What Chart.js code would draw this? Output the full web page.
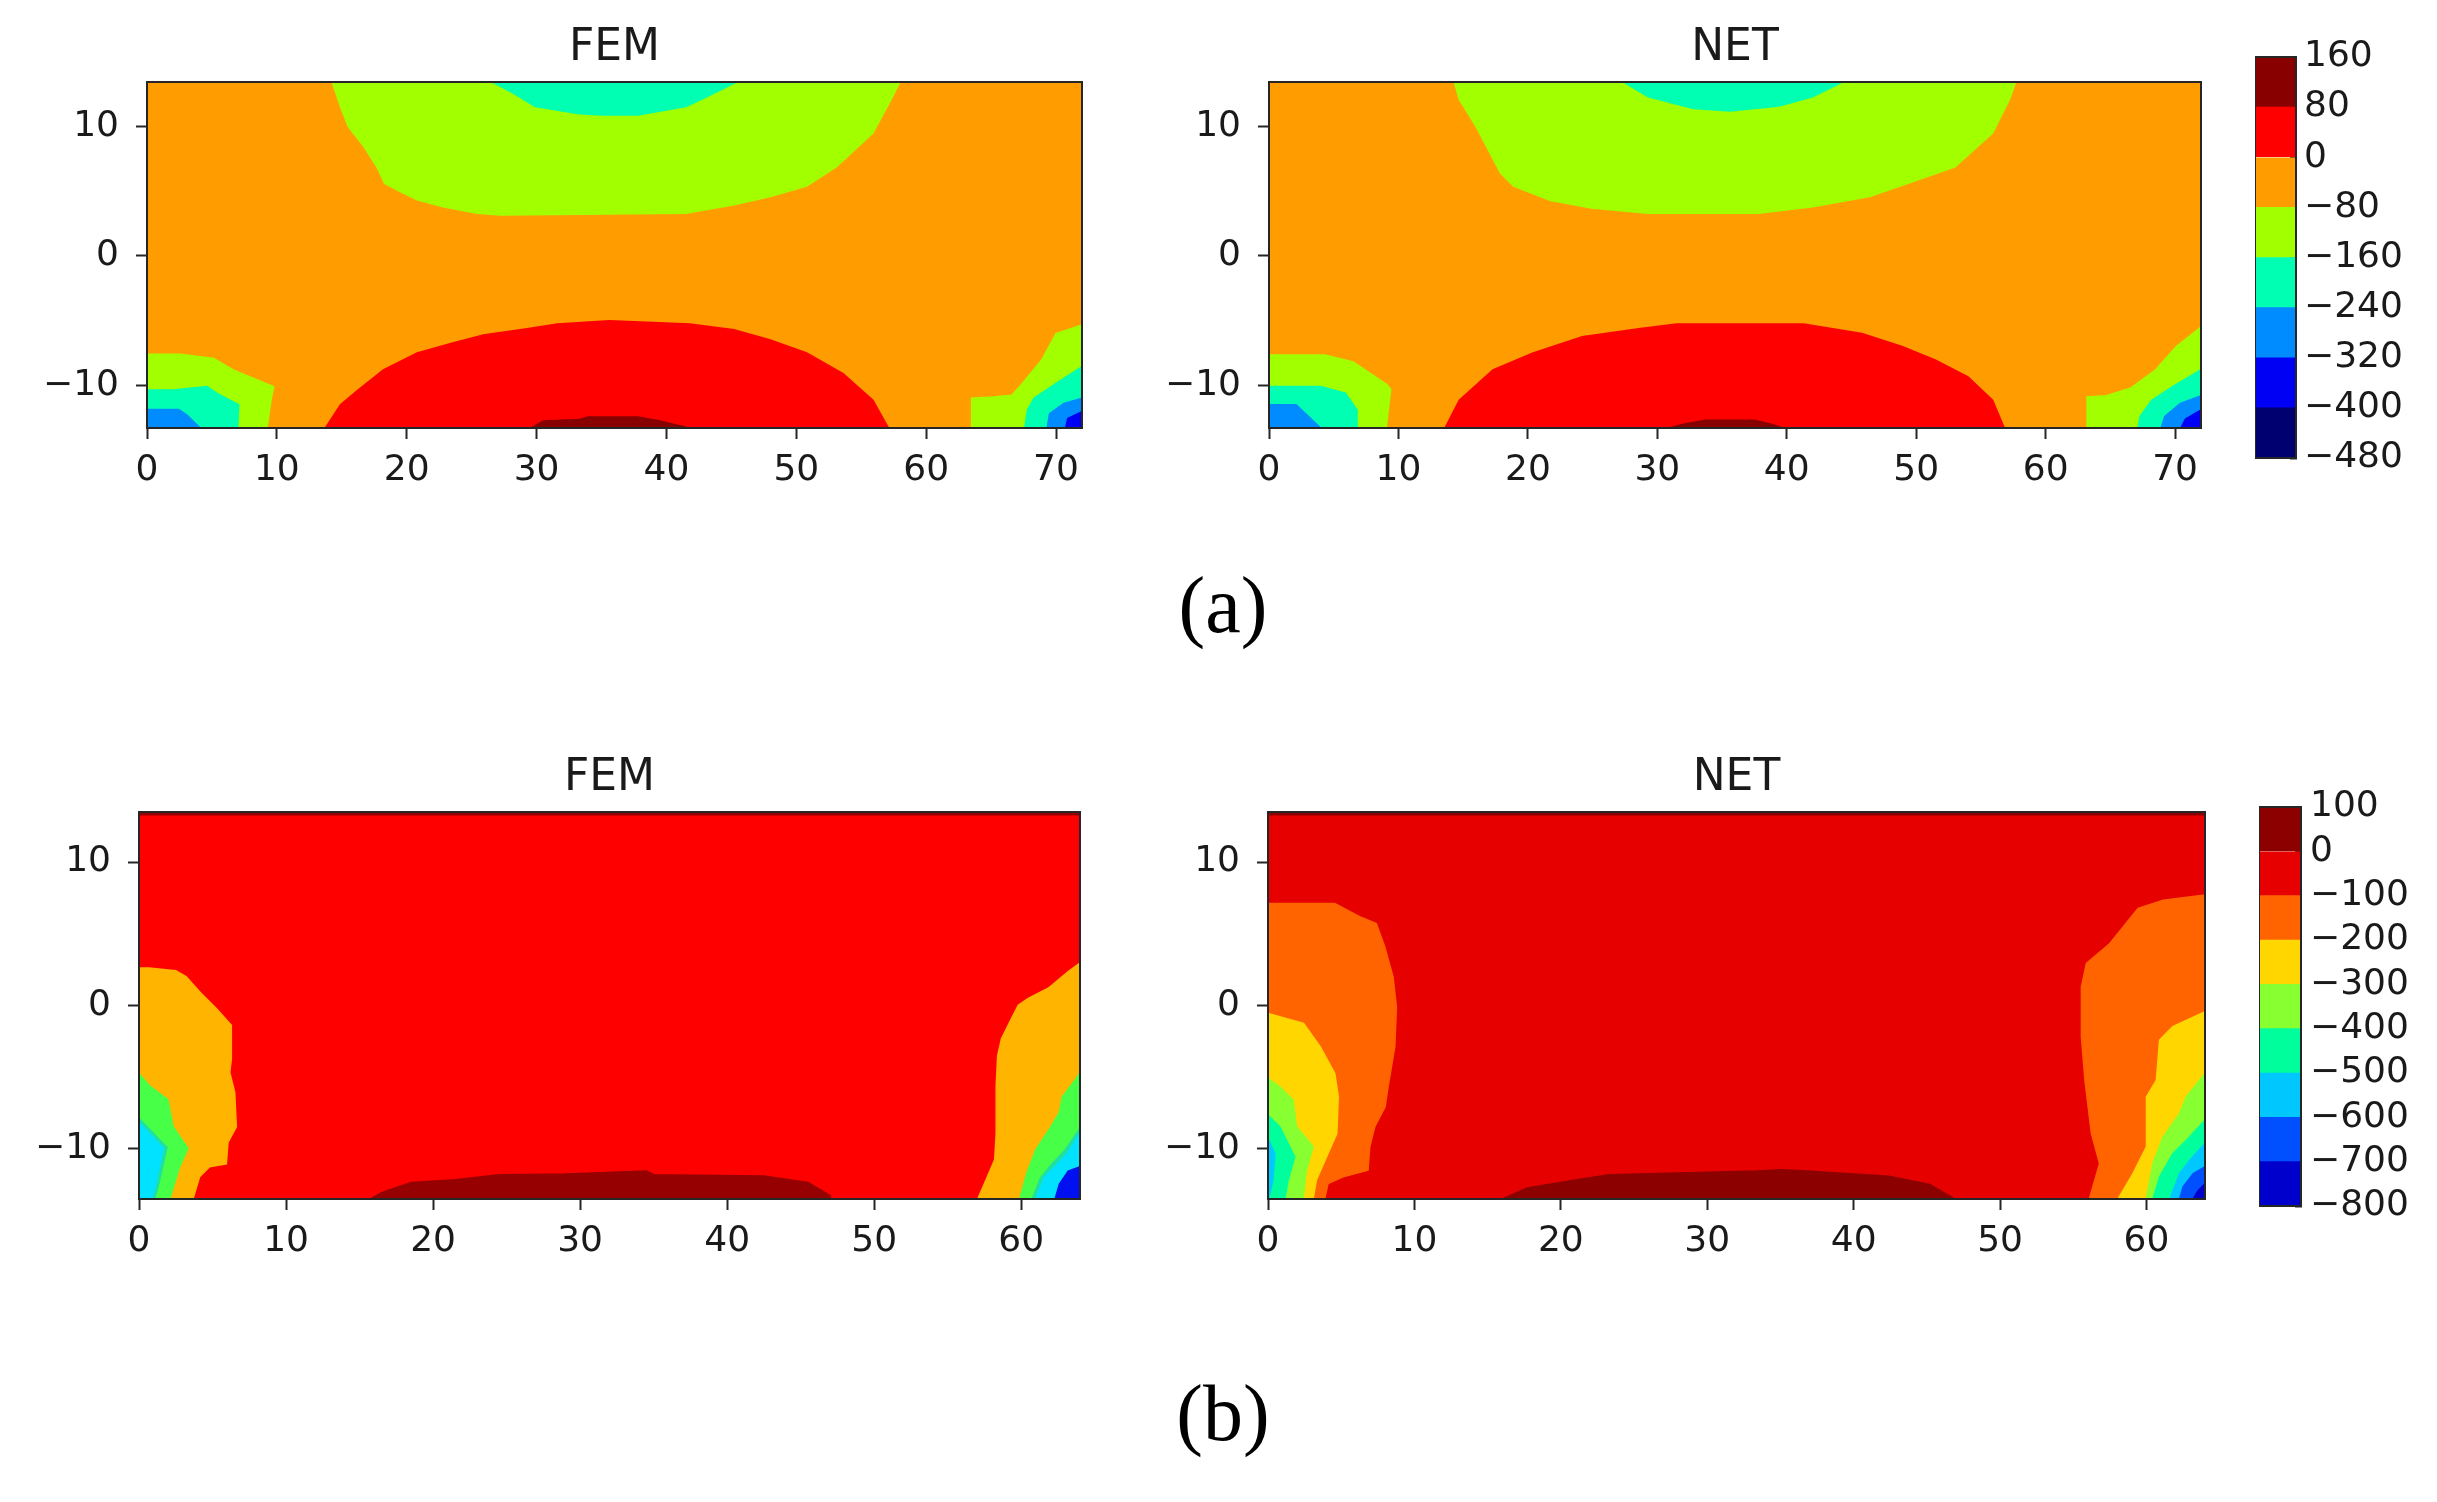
<!DOCTYPE html>
<html>
<head>
<meta charset="utf-8">
<script src="https://cdn.jsdelivr.net/npm/chart.js@4.4.1/dist/chart.umd.min.js"></script>
<style>
html, body { margin: 0; background: #fff; }
body { width: 2437px; height: 1502px; position: relative; overflow: hidden; font-family: "DejaVu Sans", sans-serif; }
canvas { position: absolute; }
.title { position: absolute; text-align: center; font-size: 44px; line-height: 44px; color: #1a1a1a; }
.cap { position: absolute; width: 200px; text-align: center; font-family: "Liberation Serif", serif; font-size: 80px; line-height: 80px; color: #000; }
</style>
</head>
<body>
<canvas id="femA"></canvas>
<canvas id="netA"></canvas>
<canvas id="barA"></canvas>
<canvas id="femB"></canvas>
<canvas id="netB"></canvas>
<canvas id="barB"></canvas>
<div class="title" style="left:147px;width:935px;top:23px">FEM</div>
<div class="title" style="left:1269px;width:932px;top:23px">NET</div>
<div class="title" style="left:139px;width:941px;top:753px">FEM</div>
<div class="title" style="left:1268px;width:937px;top:753px">NET</div>
<div class="cap" style="left:1123px;top:565px">(a)</div>
<div class="cap" style="left:1123px;top:1373px">(b)</div>
<script>
// ---- axes ----
const xTicksA = [0, 10, 20, 30, 40, 50, 60, 70];
const xTicksB = [0, 10, 20, 30, 40, 50, 60];
const yTicks = [-10, 0, 10];
const xRangeA = [0, 72];
const yRangeA = [-13.3, 13.45];
const xRangeB = [0, 64];
const yRangeB = [-13.55, 13.5];

// ---- colorbar levels ----
const levelsA = [-480, -400, -320, -240, -160, -80, 0, 80, 160];
const levelsB = [-800, -700, -600, -500, -400, -300, -200, -100, 0, 100];

// ---- (a) FEM contour boundaries [x, y] ----
const femA_green = [[14.0,14],[14.24,13.5],[14.9,11.56],[15.5,10.0],[16.7,8.46],[17.7,6.9],[18.3,5.6],[19.5,4.98],[20.8,4.34],[22.8,3.8],[25.4,3.3],[27.2,3.17],[41.5,3.3],[45.2,3.95],[48.0,4.6],[50.8,5.4],[53.1,6.9],[55.9,9.5],[57.3,12.1],[58.0,13.5],[58.1,14]];
const femA_aqua = [[26.4,14],[26.5,13.5],[28.2,12.6],[29.9,11.56],[33.3,11.0],[35.0,10.9],[37.8,10.9],[41.5,11.56],[42.9,12.2],[45.5,13.5],[45.6,14]];
const femA_red = [[13.6,-14],[13.73,-13.3],[14.9,-11.5],[16.2,-10.4],[18.2,-8.8],[20.8,-7.5],[23.4,-6.76],[25.9,-6.1],[29.4,-5.6],[31.6,-5.26],[35.6,-5.0],[41.8,-5.26],[45.2,-5.7],[48.0,-6.5],[50.8,-7.5],[53.6,-9.1],[55.9,-11.15],[57.1,-13.3],[57.2,-14]];
const femA_darkred = [[29.5,-14],[29.6,-13.3],[30.5,-12.75],[33.3,-12.65],[33.9,-12.44],[37.8,-12.44],[39.5,-12.75],[41.8,-13.3],[41.9,-14]];
const femA_lgreen = [[-1,-7.59],[2.57,-7.59],[5.13,-7.92],[6.67,-8.83],[9.75,-10.1],[9.55,-11.15],[9.24,-13.3],[9.2,-14],[-1,-14]];
const femA_laqua = [[-1,-10.37],[2.05,-10.37],[4.62,-10.1],[5.39,-10.63],[7.06,-11.5],[6.98,-13.3],[6.95,-14],[-1,-14]];
const femA_lblue = [[-1,-11.87],[2.44,-11.87],[3.08,-12.3],[4.1,-13.3],[4.2,-14],[-1,-14]];
const femA_rgreen = [[73,-5.34],[72,-5.34],[70.0,-6.0],[68.9,-8.05],[67.2,-10.1],[66.6,-10.76],[65.2,-10.9],[63.5,-11.0],[63.5,-14],[73,-14]];
const femA_raqua = [[73,-8.57],[72,-8.57],[70.0,-9.86],[68.3,-11.0],[67.8,-11.9],[67.5,-14],[73,-14]];
const femA_rlblue = [[73,-11.0],[72,-11.0],[70.6,-11.4],[69.5,-12.2],[69.2,-14],[73,-14]];
const femA_rblue = [[73,-12.05],[72,-12.05],[70.9,-12.57],[70.6,-14],[73,-14]];

// ---- (a) NET ----
const netA_green = [[14.2,14],[14.3,13.5],[14.7,12.1],[16.0,10.0],[17.9,6.4],[18.9,5.4],[21.7,4.3],[24.9,3.7],[29.3,3.3],[37.8,3.3],[42.0,3.8],[46.4,4.6],[50.2,5.9],[53.0,6.9],[55.9,9.5],[57.2,12.1],[57.7,13.5],[57.8,14]];
const netA_aqua = [[27.2,14],[27.3,13.5],[29.3,12.3],[32.8,11.4],[35.6,11.2],[39.4,11.6],[42.0,12.3],[44.4,13.5],[44.5,14]];
const netA_red = [[13.5,-14],[13.6,-13.3],[14.7,-11.15],[17.3,-8.8],[20.4,-7.5],[24.2,-6.25],[28.7,-5.6],[31.5,-5.26],[41.3,-5.26],[45.8,-6.0],[48.9,-7.0],[51.5,-8.05],[54.0,-9.34],[55.9,-11.15],[56.8,-13.3],[56.9,-14]];
const netA_darkred = [[30.8,-14],[30.9,-13.3],[32.0,-13.0],[33.7,-12.7],[37.5,-12.7],[38.8,-13.0],[39.7,-13.3],[39.8,-14]];
const netA_lgreen = [[-1,-7.65],[4.3,-7.65],[6.5,-8.2],[9.05,-9.9],[9.4,-10.3],[9.05,-13.3],[9.05,-14],[-1,-14]];
const netA_laqua = [[-1,-10.1],[4.0,-10.1],[5.9,-10.6],[6.8,-11.9],[6.8,-14],[-1,-14]];
const netA_lblue = [[-1,-11.5],[2.1,-11.5],[4.0,-13.3],[4.1,-14],[-1,-14]];
const netA_rgreen = [[73,-5.5],[72,-5.5],[70.1,-7.0],[68.5,-8.8],[66.6,-10.2],[64.7,-10.8],[63.2,-10.9],[63.2,-14],[73,-14]];
const netA_raqua = [[73,-8.8],[72,-8.8],[69.8,-10.1],[68.2,-11.15],[67.3,-12.4],[67.0,-14],[73,-14]];
const netA_rlblue = [[73,-10.8],[72,-10.8],[70.4,-11.4],[69.2,-12.4],[68.7,-14],[73,-14]];
const netA_rblue = [[73,-11.9],[72,-11.9],[70.8,-12.6],[70.1,-14],[73,-14]];

// ---- (b) FEM ----
const femB_top = [[-1,13.3],[65,13.3],[65,14.5],[-1,14.5]];
const femB_orangeL = [[-1,2.59],[0.68,2.59],[2.5,2.4],[3.2,2.0],[4.12,0.94],[5.26,-0.24],[6.28,-1.4],[6.28,-3.76],[6.17,-4.7],[6.51,-6.1],[6.62,-8.5],[6.05,-9.6],[5.94,-11.1],[4.8,-11.3],[4.12,-12.0],[3.67,-13.55],[3.6,-14.5],[-1,-14.5]];
const femB_greenL = [[-1,-4.8],[0,-4.8],[0.68,-5.6],[1.96,-6.6],[2.31,-8.5],[3.33,-10.0],[2.76,-11.3],[2.08,-13.55],[2.0,-14.5],[-1,-14.5]];
const femB_aquaL = [[-1,-7.9],[0,-7.9],[1.9,-9.95],[1.3,-12.7],[1.05,-13.55],[1.0,-14.5],[-1,-14.5]];
const femB_cyanL = [[-1,-8.2],[0,-8.2],[1.66,-10.0],[1.09,-12.7],[0.86,-13.55],[0.8,-14.5],[-1,-14.5]];
const femB_orangeR = [[65,2.94],[64,2.94],[63.2,2.35],[61.84,1.18],[60.48,0.47],[59.8,0.0],[59.34,-0.94],[58.66,-2.35],[58.4,-3.53],[58.3,-5.65],[58.3,-8.95],[58.2,-10.8],[57.7,-12.0],[57.05,-13.55],[57.0,-14.5],[65,-14.5]];
const femB_greenR = [[65,-4.7],[64,-4.7],[63.7,-5.2],[62.8,-6.4],[62.6,-7.5],[61.9,-8.7],[61.0,-10.1],[60.4,-11.7],[59.9,-13.55],[59.8,-14.5],[65,-14.5]];
const femB_aquaR = [[65,-8.6],[64,-8.6],[63.0,-10.1],[62.0,-11.2],[61.3,-12.1],[60.75,-13.55],[60.7,-14.5],[65,-14.5]];
const femB_cyanR = [[65,-8.9],[64,-8.9],[63.2,-10.3],[62.3,-11.3],[61.6,-12.0],[61.0,-13.55],[61.0,-14.5],[65,-14.5]];
const femB_blueR = [[65,-11.3],[64,-11.3],[63.2,-11.6],[62.6,-12.5],[62.3,-13.55],[62.3,-14.5],[65,-14.5]];
const femB_darkred = [[15.7,-14.5],[15.75,-13.55],[16.5,-13.1],[18.5,-12.4],[21.5,-12.2],[24.5,-11.85],[29.0,-11.8],[34.5,-11.6],[35.0,-11.85],[42.5,-11.95],[45.5,-12.4],[47.0,-13.3],[47.1,-14.5]];

// ---- (b) NET ----
const netB_top = [[-1,13.3],[65,13.3],[65,14.5],[-1,14.5]];
const netB_orangeL = [[-1,7.11],[4.56,7.11],[6.26,6.18],[7.4,5.71],[7.97,4.08],[8.54,1.98],[8.77,-0.12],[8.66,-2.91],[8.2,-5.71],[8.0,-7.1],[7.29,-8.5],[6.95,-9.9],[6.83,-11.54],[5.13,-12.0],[4.1,-12.47],[3.87,-13.55],[3.85,-14.5],[-1,-14.5]];
const netB_yellowL = [[-1,-0.58],[0,-0.58],[2.43,-1.28],[3.57,-2.91],[4.56,-4.78],[4.8,-6.41],[4.7,-8.97],[4.0,-10.6],[3.3,-12.24],[3.08,-13.55],[3.05,-14.5],[-1,-14.5]];
const netB_greenL = [[-1,-5.13],[0,-5.13],[0.8,-5.71],[1.71,-6.64],[1.94,-8.5],[3.08,-9.9],[2.62,-11.54],[2.39,-13.55],[2.35,-14.5],[-1,-14.5]];
const netB_aquaL = [[-1,-7.7],[0,-7.7],[0.8,-8.5],[1.83,-10.6],[1.37,-12.24],[1.14,-13.55],[1.1,-14.5],[-1,-14.5]];
const netB_lblueL = [[-1,-9.33],[0,-9.33],[0.46,-10.38],[0.34,-12.24],[0.11,-13.2],[0,-13.55],[-1,-14.5]];
const netB_orangeR = [[65,7.69],[64,7.69],[61.14,7.34],[59.43,6.76],[57.5,4.31],[55.9,2.91],[55.56,1.28],[55.56,-2.21],[55.8,-5.24],[56.24,-8.97],[56.8,-11.07],[56.1,-13.55],[56.1,-14.5],[65,-14.5]];
const netB_yellowR = [[65,-0.47],[64,-0.47],[61.8,-1.51],[60.9,-2.45],[60.68,-5.24],[60.0,-6.41],[60.0,-9.9],[59.08,-11.77],[58.06,-13.55],[58.0,-14.5],[65,-14.5]];
const netB_greenR = [[65,-4.78],[64,-4.78],[62.73,-6.41],[62.27,-7.58],[61.14,-9.21],[60.45,-11.07],[60.0,-13.55],[60.0,-14.5],[65,-14.5]];
const netB_aquaR = [[65,-8.04],[64,-8.04],[62.73,-9.44],[61.8,-10.38],[60.9,-12.0],[60.45,-13.55],[60.4,-14.5],[65,-14.5]];
const netB_lblueR = [[65,-9.67],[64,-9.67],[62.96,-10.84],[62.27,-11.77],[61.6,-13.55],[61.6,-14.5],[65,-14.5]];
const netB_blueR = [[65,-11.3],[64,-11.3],[63.2,-11.77],[62.5,-12.7],[62.27,-13.55],[62.2,-14.5],[65,-14.5]];
const netB_navyR = [[65,-12.47],[64,-12.47],[63.5,-13.0],[63.2,-13.55],[63.2,-14.5],[65,-14.5]];
const netB_darkred = [[16.0,-14.5],[16.0,-13.55],[17.7,-12.78],[21.1,-12.2],[23.3,-11.85],[33.4,-11.6],[35.1,-11.5],[36.8,-11.6],[42.4,-11.96],[45.2,-12.54],[46.9,-13.55],[47.0,-14.5]];

// ---- colours ----
const colorsA = ['#000070', '#0000f5', '#008cff', '#00ffb2', '#a2ff00', '#ff9c00', '#ff0000', '#880000'];
const colorsB = ['#0000cc', '#0050ff', '#00c8ff', '#00ff9c', '#88ff30', '#ffd600', '#ff6400', '#e60000', '#8c0000'];
const femBcol = { bg: '#ff0000', orange: '#ffb400', green: '#48ff48', aqua: '#20e0a0', cyan: '#00e2ff', blue: '#0010f0', dark: '#960000' };

// ---- layout (pixel boxes of the plot areas) ----
const boxFemA = { L: 147, T: 82, R: 1082, B: 428 };
const boxNetA = { L: 1269, T: 82, R: 2201, B: 428 };
const boxFemB = { L: 139, T: 812, R: 1080, B: 1199 };
const boxNetB = { L: 1268, T: 812, R: 2205, B: 1199 };
const boxBarA = { L: 2255, T: 57, R: 2296, B: 458 };
const boxBarB = { L: 2259, T: 807, R: 2301, B: 1206 };
const PAD = 50;

Chart.defaults.font.family = '"DejaVu Sans", sans-serif';
Chart.defaults.font.size = 36;
Chart.defaults.color = '#1a1a1a';
Chart.defaults.animation = false;
Chart.defaults.plugins.legend.display = false;
Chart.defaults.plugins.tooltip.enabled = false;

const INK = '#262626';
const fmt = v => v < 0 ? '\u2212' + Math.abs(v) : String(v);

const framePlugin = {
    id: 'frame',
    afterDatasetsDraw(chart){
        const {ctx, chartArea: a} = chart;
        ctx.save();
        ctx.strokeStyle = INK;
        ctx.lineWidth = 2;
        ctx.strokeRect(a.left, a.top, a.right - a.left, a.bottom - a.top);
        ctx.restore();
    }
};

function rect(xr, yr){
    return [[xr[0]-1, yr[0]-1], [xr[1]+1, yr[0]-1], [xr[1]+1, yr[1]+1], [xr[0]-1, yr[1]+1]];
}

function place(cv, left, top, w, h){
    cv.width = w; cv.height = h;
    cv.style.left = left + 'px';
    cv.style.top = top + 'px';
}

function drawPanel(id, box, xr, yr, xt, layers){
    const cv = document.getElementById(id);
    place(cv, box.L - 110, box.T - PAD, box.R - box.L + 140, box.B - box.T + PAD + 80);
    const n = layers.length;
    const datasets = layers.map(([pts, col], i) => ({
        data: pts.map(p => ({ x: p[0], y: p[1] })),
        showLine: true, fill: 'shape', tension: 0,
        backgroundColor: col, borderColor: col, borderWidth: 1.5,
        pointRadius: 0, order: n - i
    }));
    const axis = (ticks, size) => ({
        type: 'linear',
        afterBuildTicks: s => { s.ticks = ticks.map(v => ({ value: v })); },
        afterFit: s => { if(s.isHorizontal()) s.height = size; else s.width = size; },
        grid: { drawOnChartArea: false, tickLength: 11, tickWidth: 2, tickColor: INK },
        border: { color: INK, width: 2 },
    });
    new Chart(cv, {
        type: 'scatter',
        data: { datasets },
        options: {
            responsive: false, events: [],
            layout: { padding: { top: PAD, right: 30, left: 0, bottom: 0 } },
            scales: {
                x: { ...axis(xt, 80), min: xr[0], max: xr[1], ticks: { padding: 10, autoSkip: false, maxRotation: 0, callback: fmt } },
                y: { ...axis(yTicks, 110), min: yr[0], max: yr[1], ticks: { padding: 17, autoSkip: false, callback: fmt } }
            }
        },
        plugins: [framePlugin]
    });
}

function drawBar(id, box, levels, colors, pad){
    const cv = document.getElementById(id);
    place(cv, box.L, box.T - PAD, box.R - box.L + 140, box.B - box.T + 2 * PAD);
    new Chart(cv, {
        type: 'bar',
        data: {
            labels: [''],
            datasets: colors.map((c, i) => ({
                data: [[levels[i], levels[i+1]]],
                backgroundColor: c, borderWidth: 0,
                grouped: false, barPercentage: 1, categoryPercentage: 1
            }))
        },
        options: {
            responsive: false, events: [],
            layout: { padding: { top: PAD, bottom: PAD, left: 0, right: 0 } },
            scales: {
                x: { display: false },
                y: {
                    position: 'right', z: 1,
                    min: levels[0], max: levels[levels.length-1],
                    afterBuildTicks: s => { s.ticks = levels.map(v => ({ value: v })); },
                    afterFit: s => { s.width = 140; },
                    grid: { drawOnChartArea: false, tickLength: -6, tickWidth: 2, tickColor: INK },
                    border: { color: INK, width: 2 },
                    ticks: { padding: pad, autoSkip: false, callback: fmt }
                }
            }
        },
        plugins: [framePlugin]
    });
}

const [navyA, blueA, lblueA, aquaA, greenA, orangeA, redA, darkA] = colorsA;

drawPanel('femA', boxFemA, xRangeA, yRangeA, xTicksA, [
    [rect(xRangeA, yRangeA), orangeA],
    [femA_green, greenA], [femA_aqua, aquaA],
    [femA_red, redA], [femA_darkred, darkA],
    [femA_lgreen, greenA], [femA_laqua, aquaA], [femA_lblue, lblueA],
    [femA_rgreen, greenA], [femA_raqua, aquaA], [femA_rlblue, lblueA], [femA_rblue, blueA]
]);

drawPanel('netA', boxNetA, xRangeA, yRangeA, xTicksA, [
    [rect(xRangeA, yRangeA), orangeA],
    [netA_green, greenA], [netA_aqua, aquaA],
    [netA_red, redA], [netA_darkred, darkA],
    [netA_lgreen, greenA], [netA_laqua, aquaA], [netA_lblue, lblueA],
    [netA_rgreen, greenA], [netA_raqua, aquaA], [netA_rlblue, lblueA], [netA_rblue, blueA]
]);

drawPanel('femB', boxFemB, xRangeB, yRangeB, xTicksB, [
    [rect(xRangeB, yRangeB), femBcol.bg],
    [femB_top, femBcol.dark], [femB_darkred, femBcol.dark],
    [femB_orangeL, femBcol.orange], [femB_greenL, femBcol.green], [femB_aquaL, femBcol.aqua], [femB_cyanL, femBcol.cyan],
    [femB_orangeR, femBcol.orange], [femB_greenR, femBcol.green], [femB_aquaR, femBcol.aqua], [femB_cyanR, femBcol.cyan], [femB_blueR, femBcol.blue]
]);

const [navyB, blueB, lblueB, aquaB, greenB, yellowB, orangeB, redB, darkB] = colorsB;

drawPanel('netB', boxNetB, xRangeB, yRangeB, xTicksB, [
    [rect(xRangeB, yRangeB), redB],
    [netB_top, darkB], [netB_darkred, darkB],
    [netB_orangeL, orangeB], [netB_yellowL, yellowB], [netB_greenL, greenB], [netB_aquaL, aquaB], [netB_lblueL, lblueB],
    [netB_orangeR, orangeB], [netB_yellowR, yellowB], [netB_greenR, greenB], [netB_aquaR, aquaB], [netB_lblueR, lblueB], [netB_blueR, blueB], [netB_navyR, navyB]
]);

drawBar('barA', boxBarA, levelsA, colorsA, 14);
drawBar('barB', boxBarB, levelsB, colorsB, 15);
</script>
</body>
</html>
